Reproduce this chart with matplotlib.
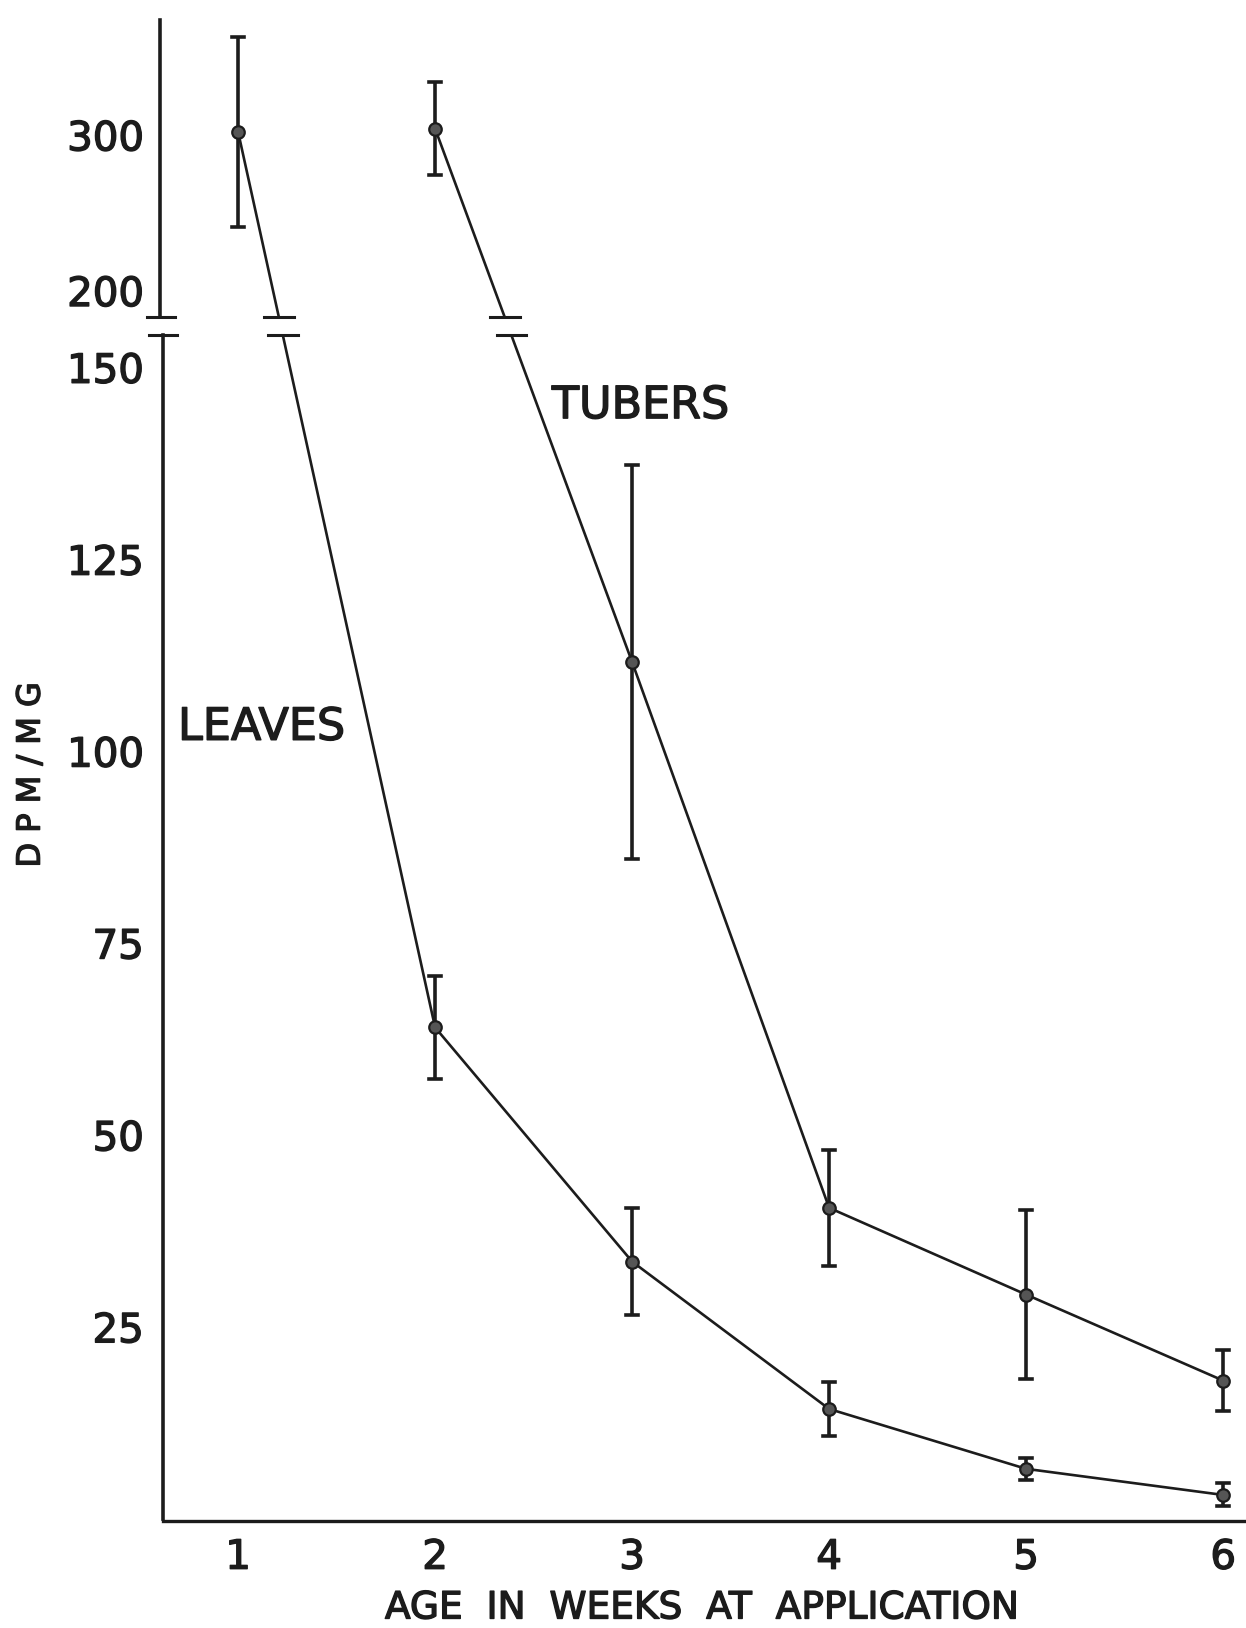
import numpy as np
import matplotlib.pyplot as plt
import matplotlib.patheffects as pe

# semaines
weeks = [1, 2, 3, 4, 5, 6]

# feuilles (DPM/MG) et écarts
leaves = [302, 64, 33.5, 14.3, 6.5, 3.1]
leaves_err = [61, 6.7, 7, 3.5, 1.4, 1.5]

# tubercules (pas de point à la semaine 1)
tubers_weeks = [2, 3, 4, 5, 6]
tubers = [304, 111.6, 40.5, 29.2, 18]
tubers_err = [30, 25.7, 7.6, 11, 4]

yticks_low = [25, 50, 75, 100, 125, 150]
yticks_high = [200, 300]

# échelle cassée : 0-150 linéaire, au-dessus compressé
LOW_MAX = 155
BRK_LO, BRK_HI = 154.2, 156.5

def T(y):
    y = np.asarray(y, dtype=float)
    return np.where(y <= LOW_MAX, y, 160 + (y - 200) * 0.2027)

def bar_limits(v, e):
    v = np.asarray(v); e = np.asarray(e)
    return T(v - e), T(v + e)

ink = '#1c1c1c'
thick = [pe.withStroke(linewidth=1.0, foreground=ink)]
plt.rcParams['font.family'] = 'DejaVu Sans'

fig = plt.figure(figsize=(12.46, 16.28), dpi=100)
ax = fig.add_axes([0.131, 0.0657, 0.869, 0.9223])
ax.set_xlim(0.62, 6.116)
ax.set_ylim(-0.3, 195.3)
for s in ['top', 'right', 'left']:
    ax.spines[s].set_visible(False)
ax.spines['bottom'].set_linewidth(2.4)
ax.spines['bottom'].set_color(ink)

def draw_series(x, v, e):
    tv = T(v)
    ax.plot(x, tv, color=ink, lw=1.9, zorder=2)
    lo, hi = bar_limits(v, e)
    ax.vlines(x, lo, hi, color=ink, lw=2.6, zorder=3)
    for xx, a, b in zip(x, lo, hi):
        ax.plot([xx - 0.032, xx + 0.032], [a, a], color=ink, lw=2.6, zorder=3)
        ax.plot([xx - 0.032, xx + 0.032], [b, b], color=ink, lw=2.6, zorder=3)
    ax.plot(x, tv, 'o', ms=9, mfc='#555555', mec=ink, mew=1.6, zorder=4)
    # marques de coupure sur la ligne
    for i in range(len(x) - 1):
        y0, y1 = tv[i], tv[i + 1]
        for yb in (BRK_LO, BRK_HI):
            if min(y0, y1) < yb < max(y0, y1):
                xb = x[i] + (x[i + 1] - x[i]) * (y0 - yb) / (y0 - y1)
                ax.plot([xb - 0.075, xb + 0.075], [yb, yb], color=ink, lw=2.2, zorder=6)

draw_series(np.array(weeks, float), leaves, leaves_err)
draw_series(np.array(tubers_weeks, float), tubers, tubers_err)

# trou de la coupure
ax.axhspan(BRK_LO + 0.25, BRK_HI - 0.25, color='white', zorder=5)

# axe vertical en deux morceaux
ax.plot([0.62, 0.62], [0, BRK_LO], color=ink, lw=2.6, clip_on=False, zorder=6)
ax.plot([0.605, 0.605], [BRK_HI, 195.3], color=ink, lw=2.6, clip_on=False, zorder=6)
ax.plot([0.55, 0.69], [BRK_LO, BRK_LO], color=ink, lw=2.2, clip_on=False, zorder=6)
ax.plot([0.54, 0.68], [BRK_HI, BRK_HI], color=ink, lw=2.2, clip_on=False, zorder=6)

ticks = list(yticks_low) + list(yticks_high)
ax.set_yticks(T(ticks))
ax.set_yticklabels([str(t) for t in ticks])
ax.tick_params(axis='y', length=0, pad=14, labelsize=29, colors=ink)
ax.set_xticks(weeks)
ax.set_xticklabels([str(w) for w in weeks])
ax.tick_params(axis='x', length=0, pad=12, labelsize=29, colors=ink)
for lab in ax.get_xticklabels() + ax.get_yticklabels():
    lab.set_path_effects(thick)

ax.text(1.12, 103.1, 'LEAVES', fontsize=32, color=ink, ha='center', va='center',
        path_effects=thick)
ax.text(3.044, 145, 'TUBERS', fontsize=32, color=ink, ha='center', va='center',
        path_effects=thick)

fig.text(0.025, 0.524, 'D P M / M G', rotation=90, fontsize=23, color=ink,
         ha='center', va='center', path_effects=thick)
fig.text(0.563, 0.012, 'AGE  IN  WEEKS  AT  APPLICATION', fontsize=27, color=ink,
         ha='center', va='center', path_effects=thick)

fig.savefig('out.png', dpi=100, facecolor='white')
